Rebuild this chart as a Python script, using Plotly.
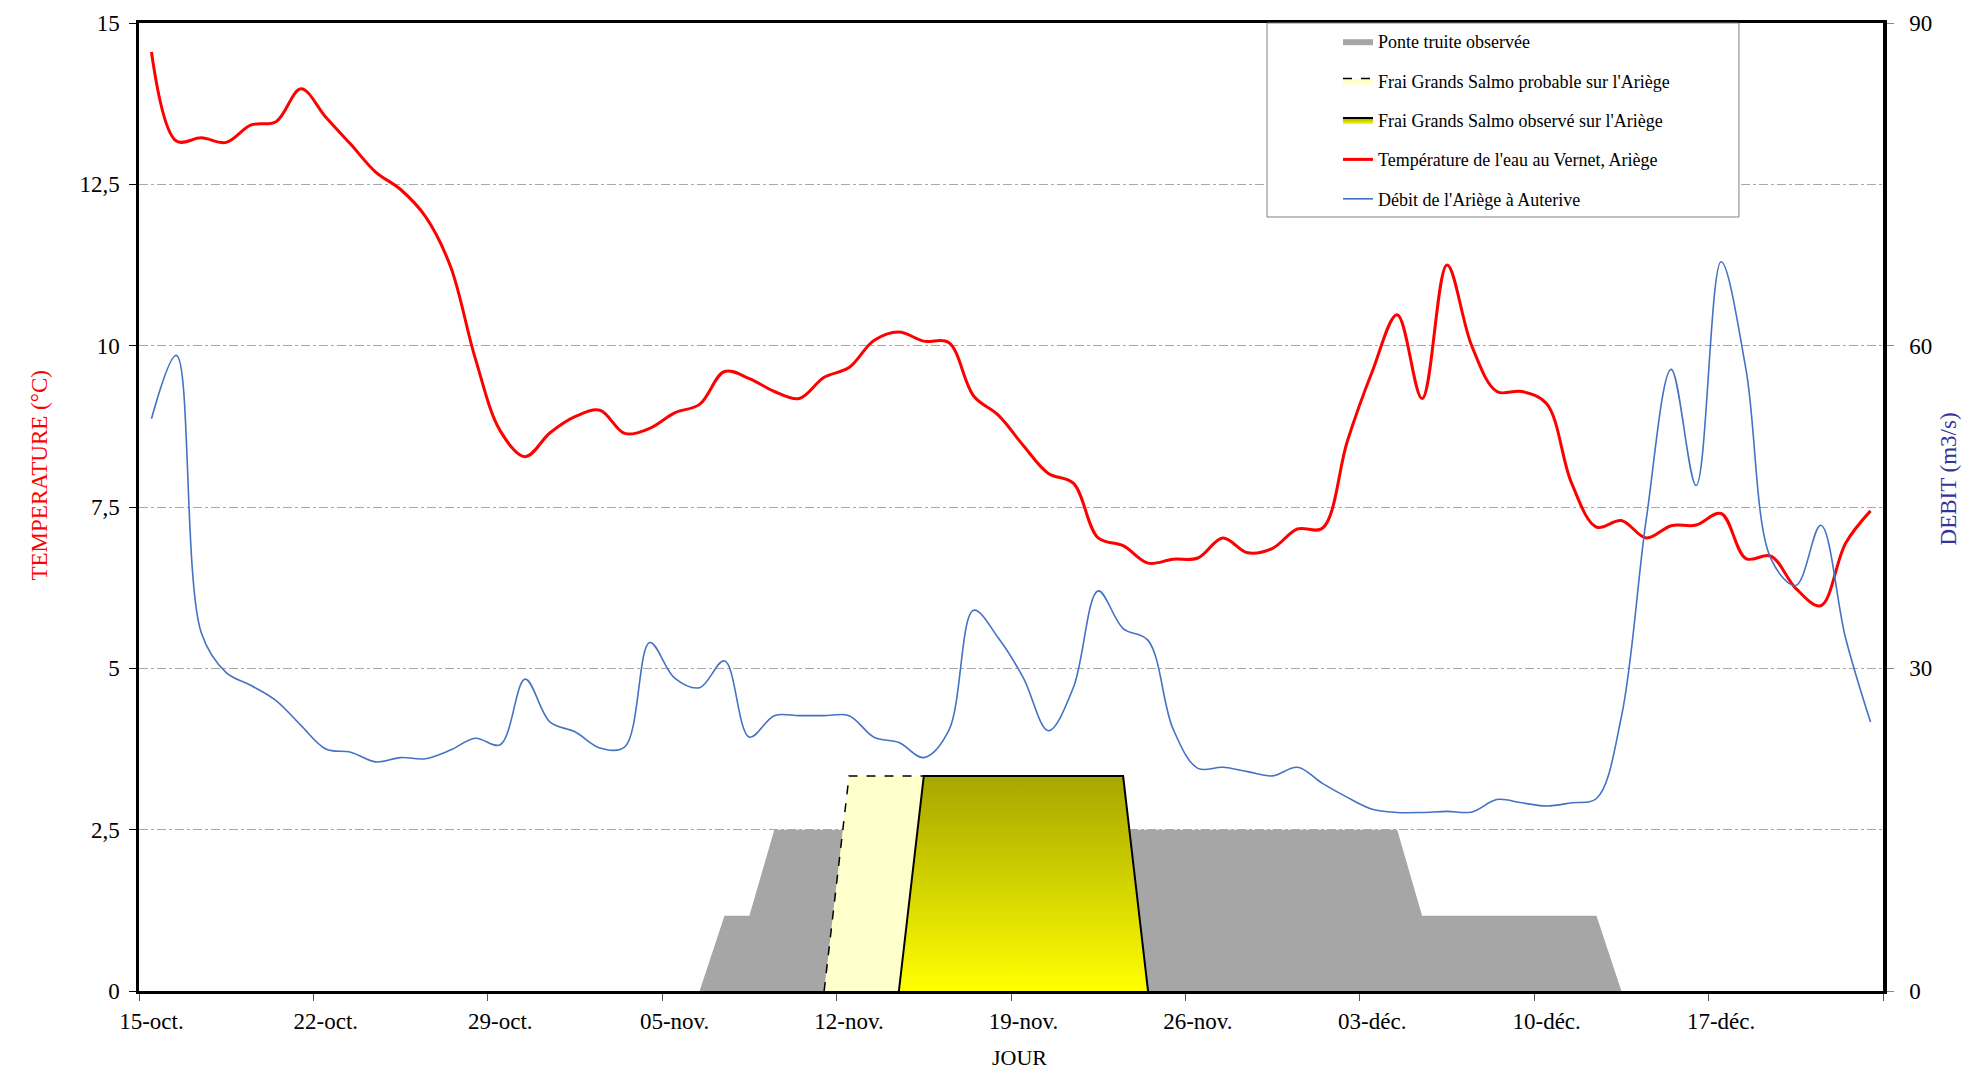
import plotly.graph_objects as go

# ---------------- data ----------------
# 70 days: 15-oct. -> 23-déc. (category index 0..69)
day_index = list(range(70))
tick_positions = [0, 7, 14, 21, 28, 35, 42, 49, 56, 63]
tick_labels = ["15-oct.", "22-oct.", "29-oct.", "05-nov.", "12-nov.",
               "19-nov.", "26-nov.", "03-déc.", "10-déc.", "17-déc."]

temperature = [14.55, 13.17, 13.22, 13.15, 13.42, 13.47, 13.98, 13.54, 13.12, 12.69,
               12.42, 12.0, 11.23, 9.80, 8.68, 8.28, 8.65, 8.90, 9.0, 8.64,
               8.72, 8.96, 9.09, 9.60, 9.49, 9.29, 9.18, 9.51, 9.66, 10.08,
               10.21, 10.07, 10.05, 9.22, 8.92, 8.45, 8.02, 7.87, 7.02, 6.90,
               6.63, 6.69, 6.71, 7.02, 6.79, 6.86, 7.16, 7.17, 8.52, 9.60,
               10.48, 9.18, 11.25, 9.99, 9.29, 9.29, 9.10, 7.87, 7.19, 7.29,
               7.02, 7.21, 7.22, 7.40, 6.70, 6.74, 6.24, 5.97, 6.94, 7.44]

debit = [53.2, 59.1, 33.3, 29.6, 28.4, 27.0, 24.7, 22.5, 22.2, 21.3,
         21.7, 21.6, 22.4, 23.5, 22.9, 29.0, 25.0, 24.1, 22.6, 22.7,
         32.4, 29.1, 28.2, 30.7, 23.6, 25.6, 25.6, 25.6, 25.6, 23.6,
         23.1, 21.7, 24.2, 35.4, 32.8, 29.1, 24.2, 28.2, 37.2, 33.7,
         32.6, 24.4, 20.7, 20.8, 20.4, 20.0, 20.8, 19.3, 18.0, 16.9,
         16.6, 16.6, 16.7, 16.65, 17.8, 17.5, 17.2, 17.5, 17.9, 25.5,
         43.9, 57.8, 47.0, 67.8, 57.8, 40.2, 37.7, 43.3, 32.8, 25.0]

N = None
ponte_truite = [N, N, N, N, N, N, N, N, N, N,
                N, N, N, N, N, N, N, N, N, N,
                N, N, 0, 7, 7, 15, 15, 15, 15, 15,
                15, 15, 15, 15, 15, 15, 15, 15, 15, 15,
                15, 15, 15, 15, 15, 15, 15, 15, 15, 15,
                15, 7, 7, 7, 7, 7, 7, 7, 7, 0,
                N, N, N, N, N, N, N, N, N, N]

frai_probable = [N, N, N, N, N, N, N, N, N, N,
                 N, N, N, N, N, N, N, N, N, N,
                 N, N, N, N, N, N, N, 0, 20, 20,
                 20, 20, N, N, N, N, N, N, N, N,
                 N, N, N, N, N, N, N, N, N, N,
                 N, N, N, N, N, N, N, N, N, N,
                 N, N, N, N, N, N, N, N, N, N]

frai_observe = [N, N, N, N, N, N, N, N, N, N,
                N, N, N, N, N, N, N, N, N, N,
                N, N, N, N, N, N, N, N, N, N,
                0, 20, 20, 20, 20, 20, 20, 20, 20, 20,
                0, N, N, N, N, N, N, N, N, N,
                N, N, N, N, N, N, N, N, N, N,
                N, N, N, N, N, N, N, N, N, N]

series_names = ["Ponte truite observée",
                "Frai Grands Salmo probable sur l'Ariège",
                "Frai Grands Salmo observé sur l'Ariège",
                "Température de l'eau au Vernet, Ariège",
                "Débit de l'Ariège à Auterive"]

# ---------------- figure ----------------
FONT = "Liberation Serif, Times New Roman, serif"
fig = go.Figure()

fig.add_trace(go.Scatter(
    x=day_index, y=ponte_truite, yaxis="y2", name=series_names[0],
    mode="lines", line=dict(width=0, color="#A6A6A6"),
    fill="tozeroy", fillcolor="#A6A6A6", legendgroup="a", connectgaps=False))

fig.add_trace(go.Scatter(
    x=day_index, y=frai_probable, yaxis="y2", name=series_names[1],
    mode="lines", line=dict(width=1.5, color="black", dash="dash"),
    fill="tozeroy", fillcolor="#FFFFCC", legendgroup="b", connectgaps=False))

fig.add_trace(go.Scatter(
    x=day_index, y=frai_observe, yaxis="y2", name=series_names[2],
    mode="lines", line=dict(width=2, color="black"),
    fill="tozeroy",
    fillgradient=dict(type="vertical", start=0, stop=20,
                      colorscale=[[0, "#FFFF00"], [1, "#A6A600"]]),
    legendgroup="c", connectgaps=False))

fig.add_trace(go.Scatter(
    x=day_index, y=temperature, yaxis="y", name=series_names[3],
    mode="lines", line=dict(width=3, color="#FF0000", shape="spline", smoothing=1),
    legendgroup="d"))

fig.add_trace(go.Scatter(
    x=day_index, y=debit, yaxis="y2", name=series_names[4],
    mode="lines", line=dict(width=1.6, color="#4472C4", shape="spline", smoothing=1),
    legendgroup="e"))

fig.update_layout(
    width=1961, height=1065,
    margin=dict(l=131, r=86, t=15, b=82),
    paper_bgcolor="white", plot_bgcolor="white",
    separators=", ",
    font=dict(family=FONT, size=21, color="black"),
    showlegend=True,
    legend=dict(
        x=0.6875, y=1.0, xanchor="left", yanchor="top",
        bgcolor="rgba(0,0,0,0)", borderwidth=0,
        font=dict(family=FONT, size=18, color="black"),
        tracegroupgap=13, traceorder="grouped", itemwidth=30,
    ),
    xaxis=dict(
        range=[-0.5, 69.5], automargin=False,
        tickmode="array", tickvals=tick_positions, ticktext=tick_labels,
        ticks="outside", ticklen=7, tickcolor="rgba(0,0,0,0)",
        minor=dict(tickmode="array",
                   tickvals=[p - 0.5 for p in tick_positions] + [69.5],
                   ticks="outside", ticklen=7, tickcolor="#555555", tickwidth=1,
                   showgrid=False),
        showgrid=False, zeroline=False,
        showline=True, linecolor="black", linewidth=3, mirror=True,
        tickfont=dict(family=FONT, size=23),
    ),
    yaxis=dict(
        range=[0, 15], tickmode="linear", tick0=0, dtick=2.5, automargin=False,
        ticks="outside", ticklen=7, tickcolor="black",
        ticklabelstandoff=5,
        showgrid=True, gridcolor="#A8A8A8", gridwidth=1, griddash="dashdot",
        zeroline=False,
        showline=True, linecolor="black", linewidth=2.5,
        tickfont=dict(family=FONT, size=23),
    ),
    yaxis2=dict(
        range=[0, 90], tickmode="linear", tick0=0, dtick=30, automargin=False,
        overlaying="y", side="right",
        ticks="outside", ticklen=7, tickcolor="#888888",
        ticklabelstandoff=11,
        showgrid=False, zeroline=False,
        showline=True, linecolor="black", linewidth=3.5,
        tickfont=dict(family=FONT, size=23),
    ),
    shapes=[dict(type="rect", xref="paper", yref="paper",
                 x0=0.6468, x1=0.9174, y0=0.7996, y1=1.0,
                 fillcolor="white", line=dict(color="#808080", width=1),
                 layer="above")],
    annotations=[
        dict(text="TEMPERATURE (°C)", xref="paper", yref="paper",
             x=-0.0654, y=0.533, textangle=-90, showarrow=False,
             font=dict(family=FONT, size=23, color="#FF0000")),
        dict(text="DEBIT (m3/s)", xref="paper", yref="paper",
             x=1.0459, y=0.529, textangle=-90, showarrow=False,
             font=dict(family=FONT, size=23, color="#333399")),
        dict(text="JOUR", xref="paper", yref="paper",
             x=0.5046, y=-0.0682, yanchor="middle", showarrow=False,
             font=dict(family=FONT, size=22, color="black")),
    ],
)

fig.write_html("out.html")
